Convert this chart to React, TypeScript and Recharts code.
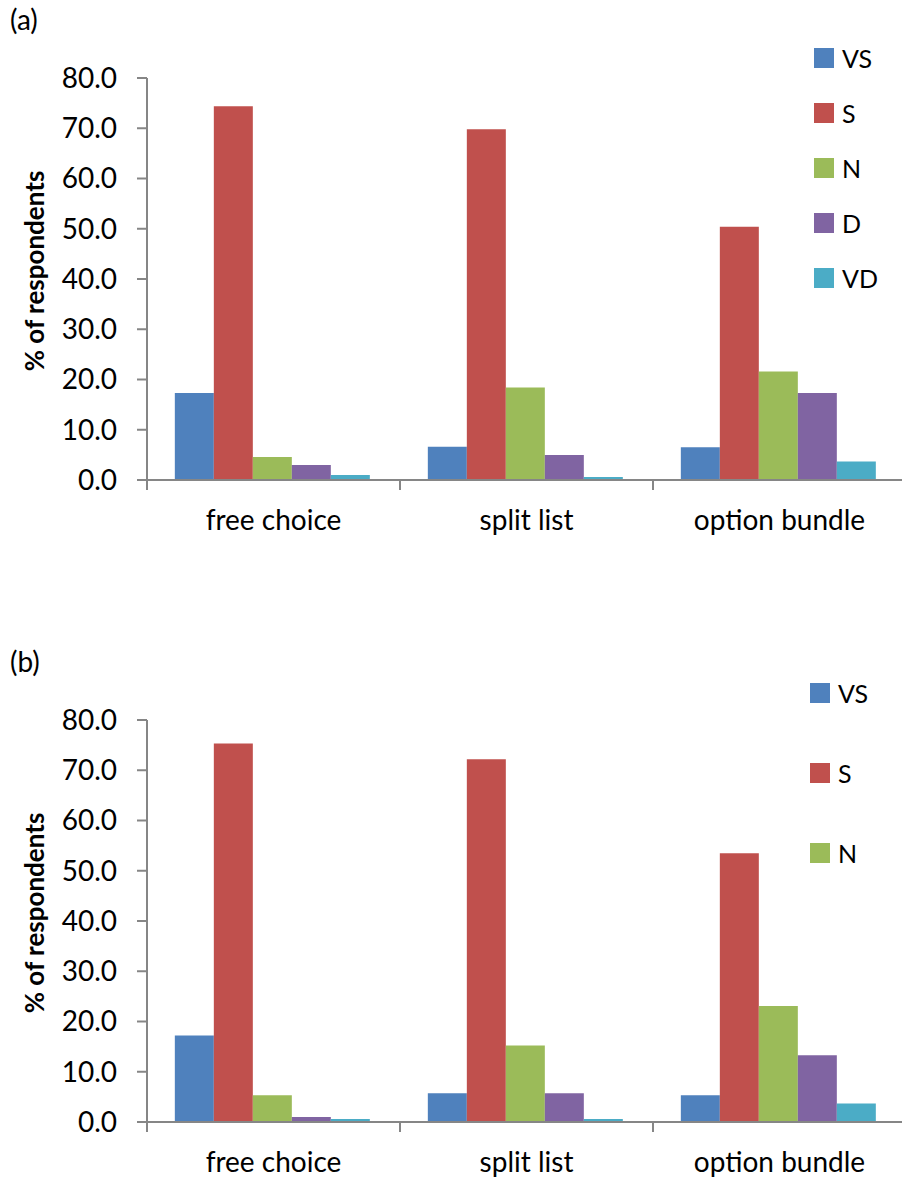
import React from 'react';
import { BarChart, Bar, XAxis, YAxis, Legend } from 'recharts';

const categories = ['free choice', 'split list', 'option bundle'];
const seriesKeys = ['VS', 'S', 'N', 'D', 'VD'];
const seriesColors = ['#4F81BD', '#C0504D', '#9BBB59', '#8064A2', '#4BACC6'];
const yTicks = [0, 10, 20, 30, 40, 50, 60, 70, 80];

// panel (a)
const aVS = [17.3, 6.6, 6.5];
const aS = [74.4, 69.8, 50.4];
const aN = [4.6, 18.4, 21.6];
const aD = [3.0, 5.0, 17.3];
const aVD = [1.0, 0.6, 3.7];

// panel (b)
const bVS = [17.2, 5.7, 5.3];
const bS = [75.3, 72.2, 53.5];
const bN = [5.3, 15.2, 23.1];
const bD = [1.0, 5.7, 13.3];
const bVD = [0.6, 0.6, 3.7];

const buildRows = (series: number[][]) =>
  categories.map((category, i) => {
    const row: Record<string, string | number> = { category };
    seriesKeys.forEach((key, k) => {
      row[key] = series[k][i];
    });
    return row;
  });

const rowsA = buildRows([aVS, aS, aN, aD, aVD]);
const rowsB = buildRows([bVS, bS, bN, bD, bVD]);

const axisColor = '#868686';

const CategoryTick = (props: any) => {
  const { x, y, payload, index, visibleTicksCount } = props;
  const half = payload?.offset ?? 126;
  return (
    <g>
      <line x1={x - half} y1={y} x2={x - half} y2={y + 10} stroke={axisColor} strokeWidth={2} />
      {index === visibleTicksCount - 1 && (
        <line x1={x + half} y1={y} x2={x + half} y2={y + 10} stroke={axisColor} strokeWidth={2} />
      )}
      <text x={x} y={y + 50} textAnchor="middle" fontSize={28} fill="#000">
        {payload.value}
      </text>
    </g>
  );
};

// legend keeps the series order (recharts sorts its payload by name)
const makeLegend = (count: number, itemHeight: number) => () => (
  <div>
    {seriesKeys.slice(0, count).map((key, k) => (
      <div key={key} style={{ height: itemHeight, display: 'flex', alignItems: 'center' }}>
        <span style={{ width: 20, height: 20, background: seriesColors[k], marginRight: 8 }} />
        <span style={{ fontSize: 25, color: '#000' }}>{key}</span>
      </div>
    ))}
  </div>
);

type PanelProps = {
  tag: string;
  rows: Record<string, string | number>[];
  top: number;
  height: number;
  legendCount: number;
  legendItemHeight: number;
  legendLeft: number;
  legendTop: number;
};

const Panel = ({ tag, rows, top, height, legendCount, legendItemHeight, legendLeft, legendTop }: PanelProps) => {
  return (
    <div style={{ position: 'absolute', left: 0, top, width: 906, height }}>
      <div style={{ position: 'absolute', left: 10, top: 2, fontSize: 28 }}>{tag}</div>
      <BarChart
        width={906}
        height={height}
        data={rows}
        margin={{ top: 78, right: 0, bottom: 0, left: 0 }}
        barCategoryGap="11%"
        barGap={0}
      >
        <XAxis
          dataKey="category"
          height={height - 78 - 402}
          tickSize={0}
          tickMargin={0}
          tickLine={false}
          axisLine={{ stroke: axisColor, strokeWidth: 2 }}
          tick={<CategoryTick />}
          interval={0}
        />
        <YAxis
          width={147}
          domain={[0, 80]}
          ticks={yTicks}
          interval={0}
          tickFormatter={(v: number) => v.toFixed(1)}
          tickSize={10}
          tickMargin={20}
          tick={{ fontSize: 28, fill: '#000' }}
          tickLine={{ stroke: axisColor, strokeWidth: 2 }}
          axisLine={{ stroke: axisColor, strokeWidth: 2 }}
          label={{
            value: '% of respondents',
            angle: -90,
            position: 'insideLeft',
            offset: 35,
            dy: -8,
            style: { textAnchor: 'middle', fontSize: 26, fontWeight: 'bold', fill: '#000' },
          }}
        />
        <Legend
          layout="vertical"
          align="center"
          verticalAlign="middle"
          content={makeLegend(legendCount, legendItemHeight)}
          wrapperStyle={{ left: legendLeft, top: legendTop, width: 90 }}
        />
        {seriesKeys.map((key, k) => (
          <Bar key={key} dataKey={key} fill={seriesColors[k]} isAnimationActive={false} />
        ))}
      </BarChart>
    </div>
  );
};

export default function App() {
  return (
    <div
      style={{
        position: 'absolute',
        left: 0,
        top: 0,
        width: 902,
        height: 1183,
        overflow: 'hidden',
        background: '#fff',
        fontFamily: 'Lato, sans-serif',
      }}
    >
      <Panel
        tag="(a)"
        rows={rowsA}
        top={0}
        height={560}
        legendCount={5}
        legendItemHeight={55}
        legendLeft={814}
        legendTop={30}
      />
      <Panel
        tag="(b)"
        rows={rowsB}
        top={642}
        height={541}
        legendCount={3}
        legendItemHeight={80}
        legendLeft={810}
        legendTop={11}
      />
    </div>
  );
}
